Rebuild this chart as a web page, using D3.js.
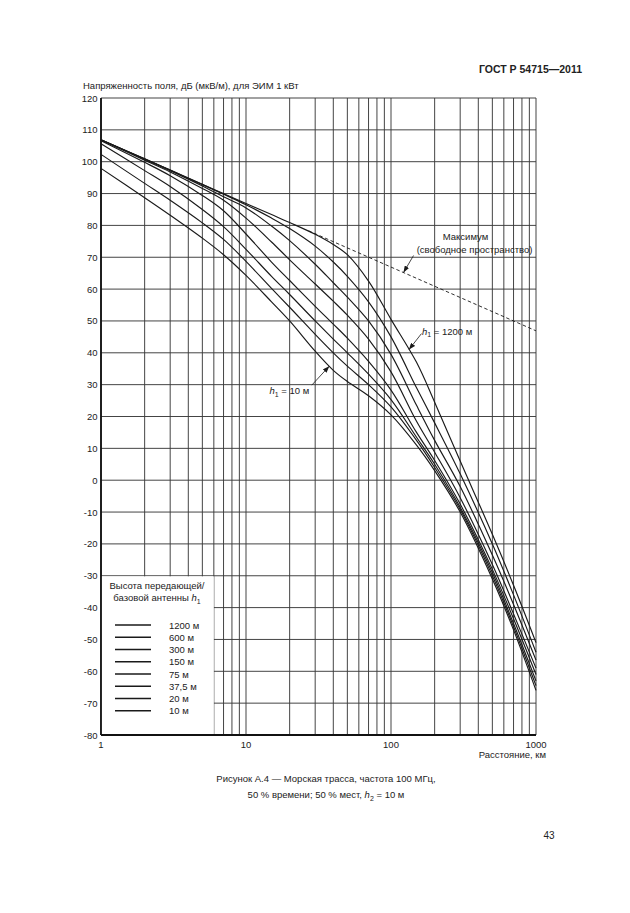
<!DOCTYPE html>
<html>
<head>
<meta charset="utf-8">
<script src="https://cdn.jsdelivr.net/npm/d3@7"></script>
<style>
  body { margin: 0; background: #fff; }
  text { font-family: "Liberation Sans", Arial, sans-serif; fill: #222; }
</style>
</head>
<body>
<svg id="chart" width="630" height="913"></svg>
<script>
const distances = [1, 2, 3, 5, 7, 10, 15, 20, 30, 40, 50, 70, 100, 150, 200, 300, 500, 700, 1000];

// field strength, dB(uV/m), one array per transmitting antenna height
const e1200 = [106.9, 100.9, 97.4, 92.9, 90.0, 86.9, 83.4, 80.9, 77.2, 74.0, 70.8, 62.5, 50.5, 37.0, 24.5, 6.0, -17.0, -33.0, -51.0];
const e600  = [106.9, 100.9, 97.4, 92.8, 89.8, 86.5, 82.3, 79.0, 73.5, 68.5, 64.0, 56.0, 45.0, 29.0, 18.0, 2.0, -20.0, -36.0, -54.0];
const e300  = [106.9, 100.8, 97.2, 92.4, 89.0, 85.5, 79.8, 75.2, 67.8, 62.0, 57.5, 50.0, 39.5, 23.5, 12.5, -2.0, -23.5, -39.0, -56.5];
const e150  = [106.8, 100.5, 96.8, 91.6, 87.9, 82.3, 74.8, 69.2, 61.6, 56.2, 51.8, 44.3, 34.0, 18.5, 8.8, -5.5, -26.5, -42.0, -59.0];
const e75   = [106.6, 99.8, 95.6, 89.4, 84.6, 77.3, 68.5, 62.7, 54.6, 49.0, 44.6, 37.3, 28.3, 15.0, 6.2, -7.5, -28.0, -43.5, -61.0];
const e37   = [105.6, 97.2, 92.2, 85.0, 79.6, 72.5, 64.0, 58.3, 50.0, 44.3, 40.0, 33.3, 25.3, 13.5, 5.0, -8.5, -29.0, -45.0, -63.0];
const e20   = [102.3, 93.2, 87.9, 80.8, 75.6, 68.7, 60.2, 54.3, 45.8, 40.0, 35.8, 30.0, 23.0, 12.5, 4.0, -9.2, -30.0, -46.0, -64.5];
const e10   = [97.9, 88.7, 83.2, 76.0, 70.8, 64.3, 56.0, 50.0, 40.5, 34.5, 31.0, 26.5, 20.5, 11.0, 3.0, -10.0, -31.0, -47.0, -66.0];

const seriesLabels = ["1200 м", "600 м", "300 м", "150 м", "75 м", "37,5 м", "20 м", "10 м"];
const seriesValues = [e1200, e600, e300, e150, e75, e37, e20, e10];

// free-space maximum (dashed)
const freeSpaceDist = [27, 1000];
const freeSpaceLevel = [78.3, 46.9];

// ticks and grid
const yTicks = [120, 110, 100, 90, 80, 70, 60, 50, 40, 30, 20, 10, 0, -10, -20, -30, -40, -50, -60, -70, -80];
const xLabels = [1, 10, 100, 1000];
const xGrid = [1, 2, 3, 4, 5, 6, 7, 8, 9, 10, 20, 30, 40, 50, 60, 70, 80, 90, 100,
               200, 300, 400, 500, 600, 700, 800, 900, 1000];

const svg = d3.select("#chart");

const x = d3.scaleLog().domain([1, 1000]).range([101, 536]);
const y = d3.scaleLinear().domain([-80, 120]).range([735, 98]);

// page header
svg.append("text")
    .attr("x", 582).attr("y", 73)
    .attr("text-anchor", "end")
    .style("font-size", "10.5px").style("font-weight", "bold")
    .text("ГОСТ Р 54715—2011");

// y axis title
svg.append("text")
    .attr("x", 83).attr("y", 89)
    .style("font-size", "9.5px")
    .text("Напряженность поля, дБ (мкВ/м), для ЭИМ 1 кВт");

// grid
const grid = svg.append("g").attr("stroke", "#3a3a3a").attr("stroke-width", 0.95);
grid.selectAll("line.v")
    .data(xGrid)
    .join("line")
    .attr("class", "v")
    .attr("x1", d => x(d)).attr("x2", d => x(d))
    .attr("y1", y(120)).attr("y2", y(-80));
grid.selectAll("line.h")
    .data(yTicks)
    .join("line")
    .attr("class", "h")
    .attr("x1", x(1)).attr("x2", x(1000))
    .attr("y1", d => y(d)).attr("y2", d => y(d));

// legend box blanks the grid under it
svg.append("rect")
    .attr("x", x(1)).attr("y", y(-30) + 0.6)
    .attr("width", x(6) - x(1)).attr("height", y(-80) - y(-30) - 0.6)
    .attr("fill", "#fff");

// frame: heavier left and bottom axes
svg.append("line")
    .attr("x1", x(1)).attr("x2", x(1)).attr("y1", y(120)).attr("y2", y(-80))
    .attr("stroke", "#111").attr("stroke-width", 1.8);
svg.append("line")
    .attr("x1", x(1)).attr("x2", x(1000)).attr("y1", y(-80)).attr("y2", y(-80))
    .attr("stroke", "#111").attr("stroke-width", 1.8);

// tick labels
svg.append("g").selectAll("text")
    .data(yTicks)
    .join("text")
    .attr("x", 97.5).attr("y", d => y(d) + 3.5)
    .attr("text-anchor", "end")
    .style("font-size", "9.5px")
    .text(d => d);
svg.append("g").selectAll("text")
    .data(xLabels)
    .join("text")
    .attr("x", d => x(d)).attr("y", 748)
    .attr("text-anchor", "middle")
    .style("font-size", "9.5px")
    .text(d => d);
svg.append("text")
    .attr("x", 546).attr("y", 758)
    .attr("text-anchor", "end")
    .style("font-size", "9.5px")
    .text("Расстояние, км");

// curves
const line = d3.line()
    .x(d => x(d[0]))
    .y(d => y(d[1]))
    .curve(d3.curveCatmullRom.alpha(0.5));

svg.append("g").selectAll("path")
    .data(seriesValues)
    .join("path")
    .attr("d", vals => line(distances.map((d, i) => [d, vals[i]])))
    .attr("fill", "none")
    .attr("stroke", "#1a1a1a")
    .attr("stroke-width", 1.15);

// free space maximum, dashed
svg.append("path")
    .attr("d", d3.line().x(d => x(d[0])).y(d => y(d[1]))(freeSpaceDist.map((d, i) => [d, freeSpaceLevel[i]])))
    .attr("fill", "none")
    .attr("stroke", "#1a1a1a")
    .attr("stroke-width", 0.9)
    .attr("stroke-dasharray", "3.5,2.5");

// arrowhead marker
svg.append("defs").append("marker")
    .attr("id", "arrow")
    .attr("viewBox", "0 0 8 6")
    .attr("refX", 8).attr("refY", 3)
    .attr("markerWidth", 7).attr("markerHeight", 5)
    .attr("markerUnits", "userSpaceOnUse")
    .attr("orient", "auto")
    .append("path").attr("d", "M0,0 L8,3 L0,6 z").attr("fill", "#1a1a1a");

// annotations: anchor on the data, tail offset in pixels
const annotations = [
    { d: 122, level: 65.2, dx: 10, dy: -17 },
    { d: 133, level: 41.0, dx: 12.5, dy: -16 },
    { d: 37.5, level: 35.8, dx: -17.5, dy: 19 }
];
svg.append("g").selectAll("line")
    .data(annotations)
    .join("line")
    .attr("x1", a => x(a.d) + a.dx).attr("y1", a => y(a.level) + a.dy)
    .attr("x2", a => x(a.d)).attr("y2", a => y(a.level))
    .attr("stroke", "#1a1a1a").attr("stroke-width", 0.8)
    .attr("marker-end", "url(#arrow)");

const fsTip = [x(annotations[0].d), y(annotations[0].level)];
svg.append("text")
    .attr("x", fsTip[0] + 62).attr("y", fsTip[1] - 33)
    .attr("text-anchor", "middle").style("font-size", "9.5px")
    .text("Максимум");
svg.append("text")
    .attr("x", fsTip[0] + 71).attr("y", fsTip[1] - 20)
    .attr("text-anchor", "middle").style("font-size", "9.5px")
    .text("(свободное пространство)");

function hLabel(sel, sub, rest) {
    sel.append("tspan").style("font-style", "italic").text("h");
    sel.append("tspan").attr("dy", 2.5).style("font-size", "7px").text(sub);
    sel.append("tspan").attr("dy", -2.5).text(rest);
}

const tip1200 = [x(annotations[1].d), y(annotations[1].level)];
svg.append("text")
    .attr("x", tip1200[0] + 13).attr("y", tip1200[1] - 15)
    .style("font-size", "9.5px")
    .call(hLabel, "1", " = 1200 м");

const tip10 = [x(annotations[2].d), y(annotations[2].level)];
svg.append("text")
    .attr("x", tip10[0] - 20).attr("y", tip10[1] + 28)
    .attr("text-anchor", "end")
    .style("font-size", "9.5px")
    .call(hLabel, "1", " = 10 м");

// legend
const legend = svg.append("g");
legend.append("text")
    .attr("x", 157).attr("y", 589)
    .attr("text-anchor", "middle").style("font-size", "9.5px")
    .text("Высота передающей/");
legend.append("text")
    .attr("x", 157).attr("y", 601)
    .attr("text-anchor", "middle").style("font-size", "9.5px")
    .call(sel => {
        sel.append("tspan").text("базовой антенны ");
        hLabel(sel, "1", "");
    });

const rows = legend.selectAll("g.row")
    .data(seriesLabels)
    .join("g")
    .attr("class", "row")
    .attr("transform", (d, i) => `translate(0,${625 + i * 12.25})`);
rows.append("line")
    .attr("x1", 115).attr("x2", 151)
    .attr("stroke", "#1a1a1a").attr("stroke-width", 1.3);
rows.append("text")
    .attr("x", 169).attr("y", 3.5)
    .style("font-size", "9.5px")
    .text(d => d);

// caption
svg.append("text")
    .attr("x", 326).attr("y", 782)
    .attr("text-anchor", "middle").style("font-size", "9.5px")
    .text("Рисунок А.4 — Морская трасса, частота 100 МГц,");
svg.append("text")
    .attr("x", 326).attr("y", 798)
    .attr("text-anchor", "middle").style("font-size", "9.5px")
    .call(sel => {
        sel.append("tspan").text("50 % времени; 50 % мест, ");
        hLabel(sel, "2", " = 10 м");
    });

// page number
svg.append("text")
    .attr("x", 549).attr("y", 839)
    .attr("text-anchor", "middle").style("font-size", "10px")
    .text("43");
</script>
</body>
</html>
